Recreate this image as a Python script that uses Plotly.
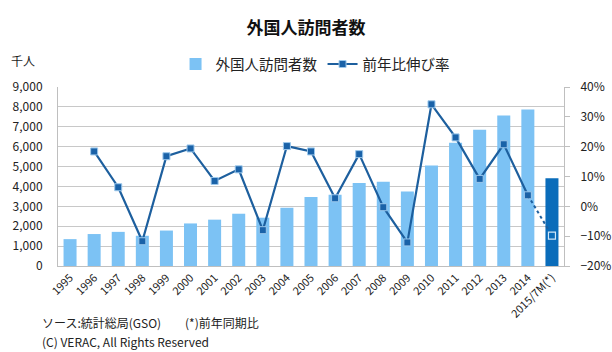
import plotly.graph_objects as go

years = ["1995", "1996", "1997", "1998", "1999", "2000", "2001", "2002", "2003", "2004",
         "2005", "2006", "2007", "2008", "2009", "2010", "2011", "2012", "2013", "2014",
         "2015/7M(*)"]
visitors = [1351, 1607, 1716, 1520, 1782, 2140, 2330, 2628, 2429, 2928,
            3468, 3584, 4172, 4236, 3747, 5050, 6200, 6848, 7572, 7874, 4418]
growth = [None, 18.4, 6.4, -11.7, 16.8, 19.4, 8.5, 12.4, -8.0, 20.2,
          18.4, 2.7, 17.5, -0.3, -12.1, 34.2, 23.1, 9.2, 20.8, 3.7, -9.8]

FONT = "Noto Sans CJK JP"
bar_colors = ["#7CC2F4"] * (len(years) - 1) + ["#0A6CBA"]
line_color = "#1D5F9E"

fig = go.Figure()
fig.add_trace(go.Bar(
    x=years, y=visitors, name="外国人訪問者数",
    marker=dict(color=bar_colors, line=dict(width=0)),
    yaxis="y",
))
fig.add_trace(go.Scatter(
    x=years[:-1], y=growth[:-1], name="前年比伸び率", mode="lines+markers",
    line=dict(color=line_color, width=2.2),
    marker=dict(symbol="square", size=7, color="#1A62A8", line=dict(color="#9CC8EC", width=1)),
    yaxis="y2", connectgaps=False,
))
fig.add_trace(go.Scatter(
    x=years[-2:], y=growth[-2:], mode="lines", showlegend=False,
    line=dict(color=line_color, width=2, dash="dot"),
    yaxis="y2",
))
fig.add_trace(go.Scatter(
    x=years[-1:], y=growth[-1:], mode="markers", showlegend=False,
    marker=dict(symbol="square", size=7, color="#0A6CBA", line=dict(color="#CFE6F8", width=1.2)),
    yaxis="y2",
))

fig.update_layout(
    width=612, height=352,
    margin=dict(l=58, r=48, t=87, b=86, autoexpand=False),
    paper_bgcolor="white", plot_bgcolor="white",
    font=dict(family=FONT, size=12, color="#222222"),
    title=dict(text="<b>外国人訪問者数</b>", x=0.5, xanchor="center", y=1 - 28 / 352,
               yanchor="middle", font=dict(size=17, color="#111111", family=FONT)),
    bargap=0.46,
    showlegend=True,
    legend=dict(orientation="h", x=0.508, xanchor="center", y=1.128, yanchor="middle",
                font=dict(size=14.5, family=FONT), itemwidth=30, traceorder="normal",
                bgcolor="rgba(0,0,0,0)"),
    xaxis=dict(type="category", tickangle=-45, tickfont=dict(size=11), automargin=False,
               showgrid=False, showline=True, linecolor="#BFBFBF", linewidth=1,
               ticks="", range=[-0.5, len(years) - 0.5]),
    yaxis=dict(range=[0, 9000], dtick=1000, tickformat=",d", showgrid=True, automargin=False,
               gridcolor="#C8C8C8", gridwidth=1, showline=True, linecolor="#BFBFBF",
               ticks="", zeroline=False, tickfont=dict(size=12), ticklabelstandoff=12),
    yaxis2=dict(range=[-20, 40], dtick=10, ticksuffix="%", overlaying="y", side="right",
                showgrid=False, showline=True, linecolor="#BFBFBF", ticks="outside",
                automargin=False,
                ticklen=5, tickcolor="#BFBFBF", zeroline=False, tickfont=dict(size=12),
                ticklabelstandoff=8),
    annotations=[
        dict(text="千人", xref="paper", yref="paper", x=-0.07, y=1.15,
             xanchor="center", yanchor="middle", showarrow=False, font=dict(size=12)),
        dict(text="ソース:統計総局(GSO)", xref="paper", yref="paper", x=-0.036, y=-0.318,
             xanchor="left", yanchor="middle", showarrow=False, font=dict(size=12)),
        dict(text="(*)前年同期比", xref="paper", yref="paper", x=0.247, y=-0.318,
             xanchor="left", yanchor="middle", showarrow=False, font=dict(size=12)),
        dict(text="(C) VERAC, All Rights Reserved", xref="paper", yref="paper", x=-0.036,
             y=-0.419, xanchor="left", yanchor="middle", showarrow=False, font=dict(size=12)),
    ],
)

fig.write_html("out.html")
